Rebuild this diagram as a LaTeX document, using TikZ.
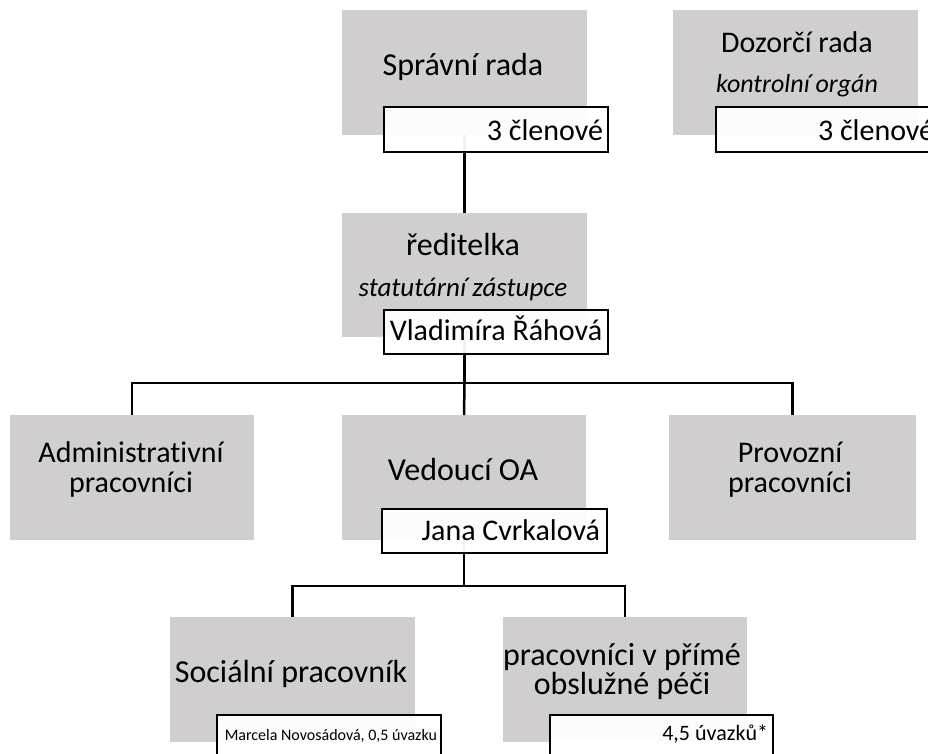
\documentclass[tikz,border=0pt]{standalone}
\usepackage{fontspec}
\setmainfont{Carlito}[Ligatures=NoCommon]
\definecolor{boxgrey}{RGB}{208,206,206}
\tikzset{
  greybox/.style={fill=boxgrey, draw=none, inner sep=0pt, outer sep=0pt},
  namebox/.style={fill=white, fill opacity=0.94, text opacity=1, draw=black, line width=2pt, inner sep=0pt, outer sep=0pt},
  conn/.style={draw=black, line width=2.5pt},
  txt/.style={inner sep=0pt, outer sep=0pt, anchor=base, font=\fontsize{30}{30}\selectfont},
  itxt/.style={txt, font=\fontsize{26}{26}\selectfont\itshape},
  btxt/.style={txt, font=\fontsize{32}{32}\selectfont},
}
\begin{document}
\begin{tikzpicture}[x=1pt,y=-1pt]
\useasboundingbox (0,0) rectangle (928,753);
% grey boxes
\node[greybox, minimum width=245pt, minimum height=125pt] (sr) at (464.5,72.5) {};
\node[greybox, minimum width=245pt, minimum height=125pt] (dr) at (795.5,72.5) {};
\node[greybox, minimum width=245pt, minimum height=124pt] (red) at (464.5,275) {};
\node[greybox, minimum width=244pt, minimum height=125pt] (adm) at (132,477.5) {};
\node[greybox, minimum width=244pt, minimum height=125pt] (ved) at (464,477.5) {};
\node[greybox, minimum width=247pt, minimum height=125pt] (prov) at (792.5,477.5) {};
\node[greybox, minimum width=245pt, minimum height=125pt] (soc) at (292.5,679.5) {};
\node[greybox, minimum width=244pt, minimum height=125pt] (ppp) at (625,679.5) {};
% connectors
\coordinate (b1) at (464.5,383);
\coordinate (b2) at (464,586);
\draw[conn] (sr.south) -- (red.north);
\draw[conn] (red.south) -- (b1);
\draw[conn] (adm.north) |- (b1) -| (prov.north);
\draw[conn] (b1) -- (ved.north);
\draw[conn] (ved.south) -- (b2);
\draw[conn] (soc.north) |- (b2) -| (ppp.north);
% white name boxes
\node[namebox, minimum width=224pt, minimum height=45pt] (srw) at (496,129.5) {};
\node[namebox, minimum width=225pt, minimum height=45pt] (drw) at (828.5,129.5) {};
\node[namebox, minimum width=224pt, minimum height=44pt] (redw) at (496,332) {};
\node[namebox, minimum width=225pt, minimum height=44pt] (vedw) at (494.5,531) {};
\node[namebox, minimum width=224pt, minimum height=60pt] (socw) at (329,745) {};
\node[namebox, minimum width=223pt, minimum height=60pt] (pppw) at (661.5,745) {};
% texts
\node[btxt] (srt) at (463,75) {Správní rada};
\node[txt, anchor=base east] (srn) at (603,140) {3 členové};
\node[txt] (drt) at (797,52) {Dozorčí rada};
\node[itxt] (dri) at (797,92) {kontrolní orgán};
\node[txt, anchor=base west] (drn) at (818,140) {3 členové};
\node[btxt] (redt) at (463,255) {ředitelka};
\node[itxt, font=\fontsize{27}{27}\selectfont\itshape] (redi) at (463,296) {statutární zástupce};
\node[txt] (redn) at (496,340) {Vladimíra Řáhová};
\node[txt] (admt1) at (131,462) {Administrativní};
\node[txt] (admt2) at (131,492) {pracovníci};
\node[btxt] (vedt) at (463,480) {Vedoucí OA};
\node[txt, anchor=base east] (vedn) at (600,540) {Jana Cvrkalová};
\node[txt] (provt1) at (790,462) {Provozní};
\node[txt] (provt2) at (790,492) {pracovníci};
\node[btxt] (soct) at (291,682) {Sociální pracovník};
\node[txt, anchor=base east, font=\fontsize{16}{16}\selectfont] (socn) at (437,740) {Marcela Novosádová, 0,5 úvazku};
\node[btxt] (pppt1) at (622,665) {pracovníci v přímé};
\node[btxt] (pppt2) at (622,694) {obslužné péči};
\node[txt, anchor=base east, font=\fontsize{22}{22}\selectfont] (pppn) at (768,740) {4,5 úvazků*};
\end{tikzpicture}
\end{document}
